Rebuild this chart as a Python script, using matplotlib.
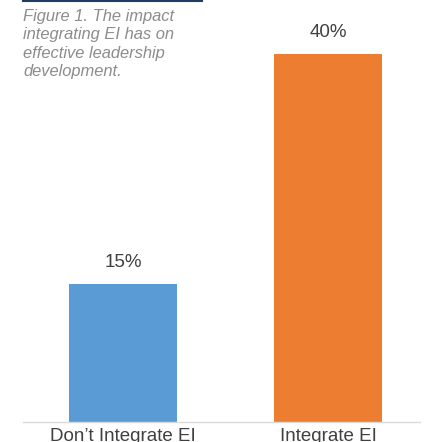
import matplotlib.pyplot as plt
import matplotlib.lines as mlines

# Datos
categorias = ["Don\u2019t Integrate EI", "Integrate EI"]
valores = [15, 40]
colores = ["#5B9BD5", "#ED7D31"]
etiquetas = ["15%", "40%"]
titulo = "Figure 1. The impact\nintegrating EI has on\neffective leadership\ndevelopment."

plt.rcParams['font.family'] = ['Liberation Sans', 'DejaVu Sans']

W, H = 427, 442
fig = plt.figure(figsize=(W / 100, H / 100), dpi=100)

# Ejes: linea base en y=422 px, de x=23 a x=420
ax = fig.add_axes([23 / W, 20 / H, (420 - 23) / W, 422 / H])
pos = list(range(len(categorias)))
ax.bar(pos, valores, width=0.527, color=colores, zorder=2)

# escala: 9.2 px por punto porcentual
ax.set_ylim(0, 422 / 9.2)
ax.set_xlim(-100 / 205, (420 - 123) / 205)

for x, v, t in zip(pos, valores, etiquetas):
    ax.text(x, v + 2.3, t, ha='center', va='center', fontsize=13.5, color='#404040')

ax.set_xticks(pos)
ax.set_xticklabels(categorias, fontsize=13.5, color='#404040')
ax.tick_params(axis='x', length=0, pad=4.5)
ax.set_yticks([])
for s in ['top', 'right', 'left']:
    ax.spines[s].set_visible(False)
ax.spines['bottom'].set_color('#d9d9d9')
ax.spines['bottom'].set_linewidth(1)

# Linea superior y leyenda del titulo
fig.add_artist(mlines.Line2D([23 / W, 202 / W], [1 - 0.8 / H, 1 - 0.8 / H],
                             color='#1f3d63', lw=1.5))
fig.text(23 / W, 1 - 9 / H, titulo, ha='left', va='top', fontsize=11.9,
         style='italic', color='#8c8c8c', linespacing=1.28)

fig.savefig("out.png", dpi=100)
